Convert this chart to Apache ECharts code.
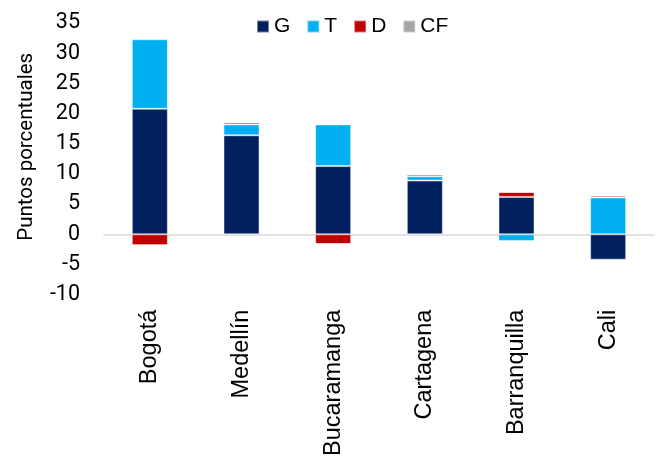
<!DOCTYPE html>
<html>
<head>
<meta charset="utf-8">
<script src="https://cdn.jsdelivr.net/npm/echarts@6/dist/echarts.min.js"></script>
<style>
  html, body { margin: 0; padding: 0; background: #fff; }
  #chart { width: 658px; height: 459px; }
</style>
</head>
<body>
<div id="chart"></div>
<script>
// ciudades
var ciudades = ['Bogotá', 'Medellín', 'Bucaramanga', 'Cartagena', 'Barranquilla', 'Cali']
// componentes (puntos porcentuales)
var serieG = [20.8, 16.4, 11.3, 8.9, 6.2, -4.2]
var serieT = [11.5, 1.8, 6.9, 0.7, -1.1, 6.1]
var serieD = [-1.8, 0.3, -1.6, 0.3, 0.8, 0.3]
var serieCF = [0, 0, 0, 0, 0, 0]

var chart = echarts.init(document.getElementById('chart'))
var fuente = '"Liberation Sans", Arial, sans-serif'
var fuenteEje = 'Roboto'

function barra(nombre, datos, color) {
  return {
    name: nombre,
    type: 'bar',
    stack: 'total',
    barWidth: 36,
    data: datos,
    itemStyle: {
      color: color,
      borderColor: 'rgba(255,255,255,0.45)',
      borderWidth: 1
    }
  }
}

chart.setOption({
  animation: false,
  textStyle: { fontFamily: fuente },
  legend: {
    top: 11,
    left: 251,
    itemWidth: 12,
    itemHeight: 12,
    itemGap: 16,
    icon: 'rect',
    textStyle: { fontSize: 21, color: '#000', fontFamily: fuente },
    data: ['G', 'T', 'D', 'CF']
  },
  grid: { left: 104, right: 4, top: 23, bottom: 164 },
  xAxis: {
    type: 'category',
    data: ciudades,
    axisTick: { show: false },
    axisLine: { onZero: true, lineStyle: { color: '#e3e3e3', width: 2 } },
    axisLabel: {
      rotate: 90,
      fontSize: 23.5,
      color: '#000',
      margin: 15,
      interval: 0
    }
  },
  yAxis: {
    type: 'value',
    min: -10,
    max: 35,
    interval: 5,
    splitLine: { show: false },
    axisLine: { show: false },
    axisTick: { show: false },
    axisLabel: { fontSize: 21.5, color: '#000', margin: 24, fontFamily: fuenteEje },
    name: 'Puntos porcentuales',
    nameLocation: 'middle',
    nameGap: 67,
    nameTextStyle: { fontSize: 20.5, color: '#000', fontFamily: fuenteEje, padding: [0, 0, 0, 24] }
  },
  series: [
    barra('G', serieG, '#002060'),
    barra('T', serieT, '#00B0F0'),
    barra('D', serieD, '#C00000'),
    barra('CF', serieCF, '#A5A5A5')
  ]
})
</script>
</body>
</html>
